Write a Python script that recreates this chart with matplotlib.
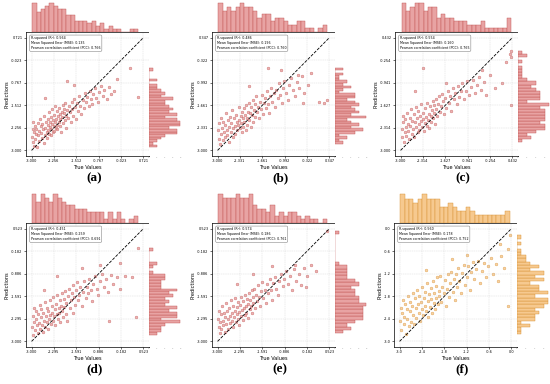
import matplotlib
matplotlib.use('Agg')
import matplotlib.pyplot as plt
import numpy as np

W, H = 550, 384

# panel (a)
true_a = [-2.97, -2.96, -2.95, -2.94, -2.93, -2.92, -2.90, -2.88, -2.86, -2.84,
          -2.82, -2.80, -2.78, -2.76, -2.74, -2.72, -2.70, -2.68, -2.66, -2.64,
          -2.62, -2.60, -2.58, -2.56, -2.54, -2.52, -2.50, -2.48, -2.47, -2.45,
          -2.44, -2.42, -2.41, -2.40, -2.38, -2.37, -2.35, -2.34, -2.32, -2.31,
          -2.30, -2.28, -2.27, -2.25, -2.24, -2.22, -2.21, -2.20, -2.18, -2.17,
          -2.15, -2.14, -2.12, -2.10, -2.09, -2.07, -2.05, -2.04, -2.02, -2.00,
          -1.98, -1.96, -1.95, -1.93, -1.91, -1.90, -1.88, -1.86, -1.84, -1.82,
          -1.78, -1.75, -1.72, -1.70, -1.67, -1.64, -1.62, -1.58, -1.55, -1.52,
          -1.48, -1.45, -1.42, -1.38, -1.35, -1.30, -1.26, -1.22, -1.18, -1.14,
          -1.10, -1.06, -1.02, -0.98, -0.94, -0.90, -0.86, -0.80, -0.75, -0.70,
          -0.64, -0.58, -0.50, -0.42, -0.35, -0.25, -0.15, 0.28, 0.55, -2.55,
          -1.82, -1.60]
pred_a = [-2.55, -2.30, -2.72, -2.05, -2.40, -2.85, -2.18, -2.62, -2.45, -2.28,
          -2.90, -2.10, -2.50, -2.35, -2.68, -1.95, -2.20, -2.42, -2.60, -2.12,
          -2.30, -2.75, -1.85, -2.48, -2.25, -2.05, -2.38, -2.58, -2.15, -1.98,
          -2.32, -2.45, -1.75, -2.22, -2.05, -2.50, -1.90, -2.30, -2.12, -1.65,
          -2.40, -2.00, -2.20, -1.82, -2.35, -2.08, -1.55, -2.25, -1.95, -2.15,
          -1.70, -2.30, -1.88, -2.05, -1.60, -2.20, -1.80, -1.98, -2.40, -1.72,
          -1.90, -1.50, -2.10, -1.78, -1.62, -2.00, -1.45, -1.85, -2.25, -1.68,
          -1.92, -1.55, -1.75, -2.05, -1.40, -1.65, -1.85, -1.30, -1.58, -1.95,
          -1.45, -1.70, -1.20, -1.52, -1.80, -1.35, -1.60, -1.10, -1.42, -1.25,
          -1.55, -1.05, -1.30, -1.48, -1.15, -0.95, -1.28, -1.40, -1.08, -0.88,
          -1.22, -1.00, -1.30, -0.92, -1.15, -1.05, -0.65, -0.29, -1.23, -1.27,
          -0.72, -0.85]

# panel (b)
true_b = [-2.98, -2.96, -2.95, -2.93, -2.91, -2.89, -2.87, -2.85, -2.83, -2.81,
          -2.79, -2.77, -2.75, -2.73, -2.71, -2.69, -2.67, -2.65, -2.63, -2.61,
          -2.59, -2.57, -2.55, -2.53, -2.51, -2.49, -2.47, -2.45, -2.43, -2.41,
          -2.39, -2.37, -2.35, -2.33, -2.31, -2.30, -2.28, -2.26, -2.25, -2.23,
          -2.21, -2.20, -2.18, -2.16, -2.14, -2.12, -2.11, -2.09, -2.07, -2.05,
          -2.03, -2.01, -1.99, -1.97, -1.95, -1.93, -1.91, -1.89, -1.87, -1.85,
          -1.82, -1.79, -1.76, -1.73, -1.70, -1.67, -1.64, -1.61, -1.58, -1.55,
          -1.52, -1.49, -1.46, -1.43, -1.40, -1.36, -1.32, -1.28, -1.24, -1.20,
          -1.16, -1.12, -1.08, -1.04, -1.00, -0.95, -0.90, -0.85, -0.80, -0.74,
          -0.68, -0.62, -0.55, -0.48, -0.40, -0.30, -0.20, -0.45, 0.05, 0.20,
          0.28, -1.50, -2.05, -1.10, -0.60]
pred_b = [-2.40, -2.65, -2.20, -2.80, -2.50, -2.05, -2.35, -2.70, -2.15, -2.45,
          -2.60, -2.25, -1.90, -2.40, -2.55, -2.10, -2.30, -2.75, -2.00, -2.45,
          -2.20, -1.80, -2.35, -2.60, -2.05, -2.28, -2.50, -1.95, -2.15, -2.40,
          -2.25, -1.70, -2.10, -2.35, -1.98, -2.20, -2.45, -1.85, -2.05, -2.30,
          -1.75, -2.15, -1.95, -2.40, -1.65, -2.05, -2.25, -1.85, -1.58, -2.10,
          -1.90, -2.30, -1.72, -1.95, -1.50, -2.15, -1.80, -1.62, -2.00, -1.40,
          -1.85, -1.70, -2.05, -1.55, -1.78, -1.35, -1.92, -1.60, -1.45, -1.75,
          -1.25, -1.62, -1.88, -1.40, -1.15, -1.55, -1.30, -1.70, -1.20, -1.45,
          -1.00, -1.35, -1.60, -1.15, -0.95, -1.30, -1.50, -1.05, -0.85, -1.20,
          -1.40, -0.98, -1.15, -0.80, -1.30, -1.05, -0.70, -1.60, -1.55, -1.58,
          -1.50, -0.55, -1.10, -0.60, -0.75]

# panel (c)
true_c = [-2.97, -2.95, -2.94, -2.92, -2.90, -2.88, -2.86, -2.84, -2.82, -2.80,
          -2.78, -2.76, -2.74, -2.72, -2.70, -2.68, -2.66, -2.64, -2.62, -2.60,
          -2.58, -2.56, -2.54, -2.52, -2.50, -2.48, -2.46, -2.44, -2.42, -2.40,
          -2.38, -2.36, -2.34, -2.32, -2.30, -2.28, -2.26, -2.24, -2.22, -2.20,
          -2.18, -2.16, -2.14, -2.12, -2.10, -2.08, -2.06, -2.04, -2.02, -2.00,
          -1.98, -1.96, -1.94, -1.92, -1.90, -1.87, -1.84, -1.81, -1.78, -1.75,
          -1.72, -1.69, -1.66, -1.63, -1.60, -1.56, -1.52, -1.48, -1.44, -1.40,
          -1.36, -1.32, -1.28, -1.24, -1.20, -1.15, -1.10, -1.05, -1.00, -0.95,
          -0.90, -0.84, -0.78, -0.72, -0.66, -0.60, -0.52, -0.45, -0.38, -0.25,
          -0.10, 0.25, 0.35, 0.38, 0.40, 0.40, -2.30, -2.55, -0.50, -1.60,
          0.10]
pred_c = [-2.35, -2.60, -1.95, -2.15, -2.75, -2.45, -2.05, -2.30, -2.55, -1.85,
          -2.20, -2.40, -2.65, -2.00, -2.25, -1.75, -2.50, -2.10, -2.35, -1.90,
          -2.58, -2.15, -1.68, -2.30, -2.02, -2.45, -1.80, -2.20, -2.38, -1.95,
          -2.12, -1.60, -2.28, -2.05, -1.85, -2.40, -2.18, -1.72, -1.98, -2.25,
          -1.55, -2.08, -1.88, -2.32, -1.65, -1.95, -2.15, -1.78, -1.50, -2.02,
          -1.85, -1.62, -2.20, -1.45, -1.75, -1.95, -1.58, -1.35, -1.82, -1.65,
          -1.28, -1.50, -1.90, -1.40, -1.70, -1.20, -1.55, -1.35, -1.80, -1.10,
          -1.45, -1.25, -1.60, -1.05, -1.38, -1.18, -0.95, -1.45, -1.20, -0.90,
          -1.30, -1.08, -0.85, -1.25, -1.00, -0.78, -1.15, -0.92, -1.30, -0.70,
          -1.10, -0.30, -0.08, 0.02, -0.15, -1.62, -0.50, -1.20, -0.55, -0.95,
          -0.95]

# panel (d)
true_d = [-2.98, -2.96, -2.95, -2.93, -2.91, -2.89, -2.87, -2.85, -2.83, -2.81,
          -2.79, -2.77, -2.75, -2.73, -2.71, -2.69, -2.67, -2.65, -2.63, -2.61,
          -2.59, -2.57, -2.55, -2.53, -2.51, -2.49, -2.47, -2.45, -2.43, -2.41,
          -2.39, -2.37, -2.35, -2.33, -2.31, -2.29, -2.27, -2.25, -2.23, -2.21,
          -2.19, -2.17, -2.15, -2.13, -2.11, -2.09, -2.07, -2.05, -2.03, -2.01,
          -1.99, -1.97, -1.95, -1.93, -1.91, -1.89, -1.86, -1.83, -1.80, -1.77,
          -1.74, -1.71, -1.68, -1.65, -1.62, -1.59, -1.56, -1.53, -1.50, -1.46,
          -1.42, -1.38, -1.34, -1.30, -1.26, -1.22, -1.18, -1.14, -1.10, -1.05,
          -1.00, -0.95, -0.90, -0.84, -0.78, -0.72, -0.65, -0.58, -0.50, -0.42,
          -0.30, -0.20, -0.05, 0.15, 0.35, 0.28, -0.55, -2.20, -1.40, -0.85,
          -2.60, -0.20]
pred_d = [-2.55, -2.20, -2.80, -2.40, -1.95, -2.65, -2.30, -2.05, -2.50, -2.75,
          -2.15, -2.42, -1.85, -2.60, -2.25, -2.00, -2.48, -2.70, -2.10, -2.35,
          -1.78, -2.55, -2.20, -1.95, -2.40, -2.62, -2.05, -2.30, -1.70, -2.18,
          -2.45, -1.90, -2.10, -2.35, -1.60, -2.22, -2.00, -2.50, -1.82, -2.15,
          -1.55, -2.30, -1.95, -2.12, -1.72, -2.40, -1.88, -1.50, -2.05, -2.25,
          -1.68, -1.92, -1.42, -2.15, -1.80, -2.35, -1.58, -1.35, -1.95, -1.70,
          -1.48, -2.10, -1.25, -1.62, -1.85, -1.40, -1.15, -1.72, -1.55, -1.30,
          -1.90, -1.45, -1.10, -1.65, -1.30, -1.50, -1.05, -1.40, -1.75, -1.20,
          -0.95, -1.35, -1.55, -1.10, -0.88, -1.30, -1.05, -1.45, -0.92, -1.20,
          -1.00, -1.35, -0.95, -1.00, -0.08, -2.25, -2.35, -0.95, -0.70, -0.60,
          -1.40, -0.55]

# panel (e)
true_e = [-2.98, -2.97, -2.95, -2.93, -2.92, -2.90, -2.88, -2.86, -2.84, -2.82,
          -2.80, -2.78, -2.76, -2.74, -2.72, -2.70, -2.68, -2.66, -2.64, -2.62,
          -2.60, -2.58, -2.56, -2.54, -2.52, -2.50, -2.48, -2.46, -2.44, -2.42,
          -2.40, -2.38, -2.36, -2.35, -2.33, -2.31, -2.29, -2.27, -2.25, -2.23,
          -2.21, -2.19, -2.17, -2.15, -2.13, -2.11, -2.09, -2.07, -2.05, -2.03,
          -2.01, -1.99, -1.97, -1.95, -1.93, -1.91, -1.89, -1.87, -1.84, -1.81,
          -1.78, -1.75, -1.72, -1.69, -1.66, -1.63, -1.60, -1.56, -1.52, -1.48,
          -1.44, -1.40, -1.36, -1.32, -1.28, -1.24, -1.20, -1.15, -1.10, -1.05,
          -1.00, -0.95, -0.90, -0.84, -0.78, -0.72, -0.66, -0.60, -0.52, -0.45,
          -0.38, -0.28, -0.18, -0.05, 0.10, 0.45, -0.55, -1.30, -2.40, -0.20,
          -1.90]
pred_e = [-2.30, -2.55, -2.05, -2.75, -2.40, -2.15, -2.62, -1.90, -2.35, -2.50,
          -2.10, -2.70, -2.25, -1.80, -2.45, -2.05, -2.30, -2.60, -1.95, -2.20,
          -2.42, -1.72, -2.12, -2.35, -2.55, -1.88, -2.25, -2.05, -1.65, -2.40,
          -2.15, -1.92, -2.30, -1.78, -2.08, -2.48, -1.85, -2.20, -1.60, -2.02,
          -2.32, -1.75, -1.95, -2.18, -1.55, -1.88, -2.10, -1.68, -2.28, -1.82,
          -1.48, -2.00, -1.70, -1.90, -1.40, -2.12, -1.62, -1.80, -1.35, -1.95,
          -1.55, -1.75, -1.25, -1.60, -1.88, -1.42, -1.15, -1.65, -1.38, -1.80,
          -1.22, -1.50, -1.05, -1.40, -1.70, -1.18, -0.98, -1.35, -1.55, -1.10,
          -0.90, -1.28, -1.05, -0.80, -1.20, -0.95, -1.38, -0.75, -1.10, -0.88,
          -1.25, -0.70, -0.95, -0.62, -0.80, 0.45, -0.60, -0.65, -1.20, -1.30,
          -0.90]

# panel (f)
true_f = [-2.98, -2.96, -2.95, -2.93, -2.91, -2.89, -2.87, -2.85, -2.83, -2.81,
          -2.79, -2.77, -2.75, -2.73, -2.71, -2.69, -2.67, -2.65, -2.63, -2.61,
          -2.59, -2.57, -2.55, -2.53, -2.51, -2.49, -2.47, -2.45, -2.43, -2.41,
          -2.39, -2.37, -2.35, -2.33, -2.31, -2.29, -2.27, -2.25, -2.23, -2.21,
          -2.19, -2.17, -2.15, -2.13, -2.11, -2.09, -2.07, -2.05, -2.03, -2.01,
          -1.99, -1.97, -1.95, -1.93, -1.91, -1.88, -1.85, -1.82, -1.79, -1.76,
          -1.73, -1.70, -1.67, -1.64, -1.61, -1.58, -1.55, -1.52, -1.49, -1.46,
          -1.43, -1.40, -1.36, -1.32, -1.28, -1.24, -1.20, -1.16, -1.12, -1.08,
          -1.04, -1.00, -0.95, -0.90, -0.85, -0.80, -0.74, -0.68, -0.62, -0.56,
          -0.50, -0.42, -0.35, -0.28, -0.20, -0.10, -0.05, -0.30, -0.08, -1.20,
          -2.30, -1.60]
pred_f = [-2.45, -2.10, -2.70, -2.25, -1.90, -2.55, -2.35, -2.00, -2.80, -2.15,
          -2.40, -1.80, -2.60, -2.20, -1.95, -2.48, -2.05, -1.70, -2.30, -2.55,
          -1.85, -2.12, -2.38, -1.62, -2.00, -2.25, -1.78, -2.45, -1.95, -2.15,
          -1.55, -2.30, -1.85, -2.05, -1.68, -2.20, -1.45, -1.92, -2.35, -1.75,
          -2.08, -1.58, -1.88, -2.25, -1.40, -1.98, -1.70, -2.15, -1.52, -1.85,
          -1.30, -2.00, -1.65, -1.80, -1.25, -1.95, -1.55, -1.72, -1.38, -2.05,
          -1.60, -1.20, -1.82, -1.45, -1.15, -1.68, -1.35, -1.90, -1.22, -1.55,
          -1.05, -1.40, -1.72, -1.18, -0.98, -1.50, -1.28, -1.00, -1.62, -1.15,
          -0.88, -1.35, -1.08, -0.85, -1.45, -1.12, -0.92, -1.30, -1.00, -0.78,
          -1.20, -0.95, -1.40, -0.72, -1.05, -0.55, -0.18, -0.40, -2.05, -0.70,
          -1.10, -0.80]

labels = ['(a)', '(b)', '(c)', '(d)', '(e)', '(f)']
upper = [0.721, 0.347, 0.432, 0.523, 0.523, 0.0]
r2 = [0.564, 0.486, 0.554, 0.451, 0.574, 0.560]
mse = [0.135, 0.196, 0.160, 0.259, 0.186, 0.178]
pcc = [0.766, 0.760, 0.765, 0.691, 0.761, 0.752]

trues = [true_a, true_b, true_c, true_d, true_e, true_f]
preds = [pred_a, pred_b, pred_c, pred_d, pred_e, pred_f]

red = ('#e8a3a3', '#c0504d')
orange = ('#f6c98f', '#d68c2e')


def px_axes(fig, x0, y0, x1, y1):
    return fig.add_axes([x0 / W, 1 - y1 / H, (x1 - x0) / W, (y1 - y0) / H])


def draw_panel(fig, i, left, top):
    t, p, hi = trues[i], preds[i], upper[i]
    fill, edge = orange if i == 5 else red
    lo = -3.0
    span = hi - lo
    lim = (lo - 0.05 * span, hi + 0.05 * span)

    right = left + 123
    bottom = top + 124
    ax = px_axes(fig, left, top, right, bottom)
    ax_top = px_axes(fig, left, top - 30, right, top)
    ax_r = px_axes(fig, right, top, right + 33, bottom)

    ax.scatter(t, p, s=4, c=fill, edgecolors=edge, linewidths=0.3, alpha=0.8)
    ax.plot([lo, hi], [lo, hi], 'k--', lw=0.6)
    ax.set_xlim(lim)
    ax.set_ylim(lim)
    ticks = np.linspace(lo, hi, 6)
    fmt = '{:.1f}' if i == 5 else '{:.3f}'
    ax.set_xticks(ticks, [fmt.format(v) for v in ticks])
    ax.set_yticks(ticks, [fmt.format(v) for v in ticks])
    ax.tick_params(labelsize=2.5, length=1.5, width=0.4, pad=1)
    ax.grid(True, ls='--', lw=0.3, alpha=0.5)
    for s in ax.spines.values():
        s.set_linewidth(0.5)
    ax.set_xlabel('True Values', fontsize=3.6, labelpad=1)
    ax.set_ylabel('Predictions', fontsize=3.6, labelpad=1)
    txt = (f'R-squared (R²): {r2[i]:.3f}\n'
           f'Mean Squared Error (MSE): {mse[i]:.3f}\n'
           f'Pearson correlation coefficient (PCC): {pcc[i]:.3f}')
    ax.text(0.04, 0.965, txt, transform=ax.transAxes, fontsize=2.3,
            va='top', ha='left', linespacing=1.3,
            bbox=dict(boxstyle='round,pad=0.4', fc='white', ec='#888888', lw=0.4))

    ax_top.hist(t, bins=25, color=fill, edgecolor=edge, linewidth=0.3)
    ax_top.set_xlim(lim)
    ax_top.axis('off')

    ax_r.hist(p, bins=30, orientation='horizontal', color=fill,
              edgecolor=edge, linewidth=0.3)
    ax_r.set_ylim(lim)
    for s in ax_r.spines.values():
        s.set_visible(False)
    ax_r.set_yticks([])
    ax_r.tick_params(axis='x', labelsize=1.5, length=0, pad=1, colors='#999999')

    fig.text((left + right) / 2 / W + 0.012, 1 - (bottom + 22) / H, labels[i],
             ha='center', va='center', fontsize=9.5, fontweight='bold',
             family=['Liberation Serif', 'DejaVu Serif'])


fig = plt.figure(figsize=(W / 100, H / 100), dpi=100)
positions = [(26, 32), (212, 32), (395, 32), (26, 223), (212, 223), (394, 223)]
for i, (x, y) in enumerate(positions):
    draw_panel(fig, i, x, y)

fig.savefig('out.png', dpi=100)
